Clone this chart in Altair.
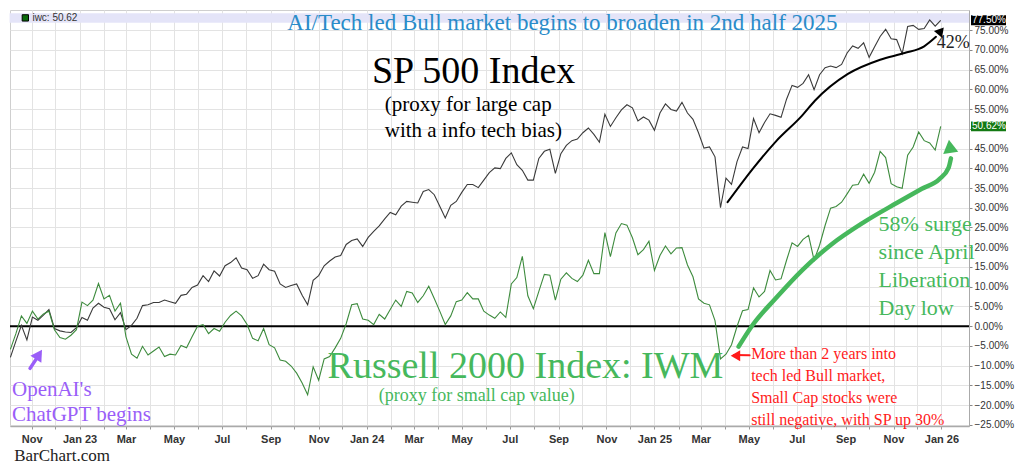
import altair as alt
import pandas as pd

# weekly closes, % change vs. the common base
weeks = pd.date_range("2022-10-05", periods=170, freq="7D").strftime("%Y-%m-%d").tolist()

sp500 = [
    -7.9, -3.8, 0.2, -3.5, 2.3, 1.5, 2.8, 4.2, -0.6, -1.2,
    -1.5, -1.6, -0.4, 2.2, 1.5, 4.6, 5.8, 4.8, 4.4, 1.6,
    3.4, -0.9, 0.2, 2.0, 5.2, 5.4, 6.0, 6.0, 6.6, 6.2,
    5.8, 7.8, 8.1, 9.8, 10.4, 12.8, 11.3, 14.0, 12.7, 15.3,
    16.1, 17.3, 14.7, 14.3, 12.1, 12.8, 15.7, 14.3, 13.9, 10.7,
    9.8, 10.3, 10.7, 7.8, 5.4, 11.6, 12.8, 15.3, 16.5, 17.5,
    17.9, 20.7, 21.7, 22.1, 20.2, 22.5, 24.0, 25.4, 27.2, 28.8,
    28.2, 30.4, 31.6, 31.4, 31.2, 34.1, 34.6, 33.3, 30.4, 27.4,
    30.6, 31.6, 33.9, 35.9, 35.9, 35.1, 37.0, 38.9, 40.1, 39.9,
    42.5, 43.9, 40.9, 39.5, 37.0, 37.0, 42.5, 44.3, 44.8, 38.7,
    43.7, 45.8, 47.0, 47.4, 49.0, 50.2, 48.6, 46.6, 53.7, 50.6,
    52.8, 54.8, 56.1, 55.3, 52.0, 53.0, 52.2, 49.6, 54.0, 56.3,
    54.9, 54.5, 56.7, 54.0, 52.4, 49.0, 45.1, 45.4, 42.9, 30.0,
    37.5, 35.9, 41.7, 45.4, 45.0, 52.6, 49.0, 51.6, 53.8, 53.4,
    52.9, 57.5, 61.0, 60.5, 61.5, 63.7, 59.9, 63.7, 65.5, 65.9,
    65.5, 66.3, 69.2, 71.0, 70.4, 71.8, 68.1, 70.8, 73.4, 75.2,
    72.8, 72.6, 69.0, 75.9, 76.2, 75.2, 75.4, 77.6, 76.0, 77.5,
]

iwm = [
    -5.9, -1.9, 2.6, 0.7, 3.8, 1.8, 3.1, 3.8, -0.9, -2.9,
    -3.3, -2.3, -0.9, 6.1, 5.2, 6.6, 10.8, 6.9, 7.8, 3.8,
    5.8, -2.7, -7.1, -8.1, -5.1, -7.3, -6.3, -5.3, -7.7, -7.1,
    -7.3, -4.9, -5.5, -2.7, 0.0, 0.4, -1.9, -0.6, -1.3, 1.0,
    2.7, 3.8, 2.6, 0.4, -3.1, -3.7, -0.6, -4.7, -5.5, -8.6,
    -8.9, -10.1, -11.9, -14.4, -17.4, -10.3, -13.7, -8.3, -7.7, -5.5,
    -3.1, 0.6, 5.4, 5.7, 1.8, 1.5, 0.4, 3.0, 1.8, 4.2,
    6.6, 5.0, 8.8, 8.4, 6.0, 7.7, 10.1, 7.0, 3.8, 0.4,
    2.6, 6.2, 6.6, 8.5, 6.9, 6.9, 3.8, 2.8, 2.0, 3.6,
    2.2, 10.7, 12.3, 17.7, 7.7, 4.4, 8.8, 13.1, 12.9, 6.6,
    11.9, 13.5, 12.1, 11.3, 12.9, 16.7, 13.3, 13.3, 23.7, 17.6,
    23.6, 26.0, 25.6, 22.4, 18.1, 19.4, 21.5, 14.1, 17.9, 20.3,
    18.3, 19.8, 19.9, 15.5, 12.5, 6.9, 5.8, 5.4, 1.4, -8.3,
    -7.1, -4.7, -0.1, 3.9, 4.2, 9.7, 7.4, 8.8, 14.1, 11.7,
    12.0, 16.7, 21.1, 20.2, 22.0, 23.0, 16.7, 20.5, 25.5, 29.9,
    30.3, 31.4, 33.5, 35.7, 35.9, 38.5, 36.2, 39.0, 44.3, 42.7,
    36.1, 35.3, 34.9, 43.3, 45.4, 49.2, 47.0, 46.4, 44.6, 50.62,
]

month_ticks = pd.date_range("2022-11-01", "2026-01-01", freq="MS")
y_ticks = list(range(-25, 80, 5))

SERIF = "Liberation Serif"
SANS = "Liberation Sans"
GREEN = "#46b85c"
BLUE = "#2a8cc9"
PURPLE = "#9a5ef8"
RED = "#ff1a1a"

x_axis = alt.Axis(
    values=[alt.DateTime(year=d.year, month=d.month, date=1, utc=True) for d in month_ticks],
    labelExpr="utcmonth(datum.value) % 2 == 0 ? (utcmonth(datum.value) == 0 ? utcFormat(datum.value, '%b %y') : utcFormat(datum.value, '%b')) : ''",
    labelFont=SANS, labelFontSize=11, labelFontWeight="bold", labelColor="#333",
    labelOverlap=False, labelFlush=False, labelPadding=4,
    tickSize=3, tickColor="#999", domainColor="#aaa", domainWidth=1.5,
    grid=True, gridColor="#e3e3e3",
)
# the 50% label sits under the IWM last-value badge, as in the original
y_axis = alt.Axis(
    orient="right", values=y_ticks,
    labelExpr="datum.value == 50 ? '' : format(datum.value, '.2f') + '%'",
    labelFont=SANS, labelFontSize=10, labelColor="#333", labelPadding=2,
    tickSize=3, tickColor="#888", domainColor="#aaa",
    grid=True, gridColor="#e3e3e3",
)
x_enc = alt.X(
    "date:T", title=None, axis=x_axis,
    scale=alt.Scale(type="utc", domain=[
        alt.DateTime(year=2022, month=10, date=4, hours=12, utc=True),
        alt.DateTime(year=2026, month=2, date=5, utc=True),
    ]),
)
y_enc = alt.Y("v:Q", title=None, axis=y_axis,
              scale=alt.Scale(domain=[-25.3, 80.1], nice=False, zero=False))


def pts(rows):
    return pd.DataFrame(rows, columns=["date", "v"])


def series(values, color):
    return alt.Chart(pd.DataFrame({"date": weeks, "v": values})).mark_line(
        color=color, strokeWidth=1.1
    ).encode(x=x_enc, y=y_enc)


def note(lines, date, v, size, color, align="left", line_height=None, font=SERIF):
    kw = {"lineHeight": line_height} if line_height else {}
    return alt.Chart(pts([(date, v)])).mark_text(
        text=lines, font=font, fontSize=size, color=color, align=align,
        baseline="alphabetic", **kw
    ).encode(x=x_enc, y=y_enc)


def curve(rows, color, width):
    return alt.Chart(pts(rows)).mark_line(
        color=color, strokeWidth=width, interpolate="monotone", strokeCap="round"
    ).encode(x=x_enc, y=y_enc)


def head(date, v, angle, size, color, shape="triangle"):
    return alt.Chart(pts([(date, v)])).mark_point(
        shape=shape, filled=True, opacity=1, size=size, angle=angle, color=color
    ).encode(x=x_enc, y=y_enc)


def badge(value, fill):
    d = pd.DataFrame({"v": [value + 1.25], "v2": [value - 1.25]})
    box = alt.Chart(d).mark_rect(color=fill).encode(
        x=alt.value({"expr": "width + 2"}), x2=alt.value({"expr": "width + 37"}),
        y=y_enc, y2=alt.Y2("v2:Q"),
    )
    label = alt.Chart(pd.DataFrame({"v": [value]})).mark_text(
        text=f"{value:.2f}%", font=SANS, fontSize=10, color="white",
        align="left", baseline="middle",
    ).encode(x=alt.value({"expr": "width + 3"}), y=y_enc)
    return box + label


band = alt.Chart(pd.DataFrame({
    "date": ["2022-10-04"], "date2": ["2026-02-05"], "v": [79.3], "v2": [76.9]
})).mark_rect(color="#e4e4f8").encode(x=x_enc, x2=alt.X2("date2:T"), y=y_enc, y2=alt.Y2("v2:Q"))

zero = alt.Chart(pd.DataFrame({"v": [0]})).mark_rule(color="black", strokeWidth=2).encode(y=y_enc)

legend_box = alt.Chart(pts([("2022-10-24", 78.1)])).mark_square(
    size=40, color="#0a6a0a", stroke="black", strokeWidth=1, opacity=1
).encode(x=x_enc, y=y_enc)
legend_txt = alt.Chart(pts([("2022-11-02", 78.1)])).mark_text(
    text=f"iwc: {iwm[-1]:.2f}", font=SANS, fontSize=10, color="#333",
    align="left", baseline="middle",
).encode(x=x_enc, y=y_enc)

sp_arrow = [
    ("2025-04-04", 31.4), ("2025-05-07", 40.1), ("2025-06-04", 46.7),
    ("2025-07-08", 53.4), ("2025-07-24", 57.1), ("2025-09-04", 63.9),
    ("2025-10-15", 67.5), ("2025-11-15", 69.2), ("2025-12-10", 70.9),
    ("2025-12-25", 73.3),
]
iwm_arrow = [
    ("2025-04-18", -5.2), ("2025-05-07", 0.6), ("2025-06-04", 7.0),
    ("2025-07-08", 14.2), ("2025-08-14", 20.7), ("2025-09-24", 26.3),
    ("2025-11-05", 31.2), ("2025-12-07", 34.8), ("2025-12-29", 37.2),
    ("2026-01-10", 40.1), ("2026-01-13", 42.5),
]
gpt_arrow = [("2022-10-30", -10.7), ("2022-11-07", -8.3)]
red_arrow = [("2025-04-12", -7.3), ("2025-05-02", -7.4)]

layers = [
    band,
    zero,
    series(sp500, "#3a3a3a"),
    series(iwm, "#3d8b3d"),
    curve(sp_arrow, "black", 2),
    head("2025-12-30", 74.5, 40, 110, "black"),
    curve(iwm_arrow, GREEN, 4.5),
    head("2026-01-12", 45.0, 352, 230, GREEN),
    curve(gpt_arrow, PURPLE, 3.5),
    head("2022-11-09", -7.6, 33, 170, PURPLE),
    curve(red_arrow, RED, 2),
    head("2025-04-14", -7.5, 0, 120, RED, shape="triangle-left"),
    legend_box,
    legend_txt,
    note("AI/Tech led Bull market  begins to broaden in 2nd half 2025", "2024-09-06", 75.1, 23, BLUE, align="center"),
    note("SP 500 Index", "2024-05-16", 61.6, 38, "black", align="center"),
    note(["(proxy for large cap", "with a info tech bias)"], "2024-01-24", 54.6, 21, "black", line_height=26),
    note("42%", "2025-12-26", 70.4, 18, "#222"),
    note("Russell 2000 Index: IWM", "2024-07-21", -13.1, 38, GREEN, align="center"),
    note("(proxy for small cap value)", "2024-05-20", -18.9, 18, GREEN, align="center"),
    note(["58% surge", "since April", "Liberation", "Day low"], "2025-10-13", 24.0, 22, GREEN, line_height=28),
    note(["More than 2 years into", "tech led Bull market,", "Small Cap stocks were",
          "still negative, with SP up 30%"], "2025-05-04", -8.3, 16, RED, line_height=22),
    note(["OpenAI's", "ChatGPT begins"], "2022-10-07", -17.6, 21, PURPLE, line_height=25),
    badge(sp500[-1], "black"),
    badge(iwm[-1], "#137a13"),
]

chart = alt.layer(*layers).properties(
    width=1008,
    height=456,
    autosize=alt.AutoSizeParams(type="fit", contains="padding"),
    padding={"left": 0, "top": 2, "right": 2, "bottom": 0},
    title=alt.TitleParams("BarChart.com", orient="bottom", anchor="start", font=SERIF,
                          fontSize=17, fontWeight="normal", color="#222", offset=4, dx=6),
).configure_view(stroke="#cfcfcf")

chart.save("out.html", embed_options={"renderer": "svg", "actions": False})
